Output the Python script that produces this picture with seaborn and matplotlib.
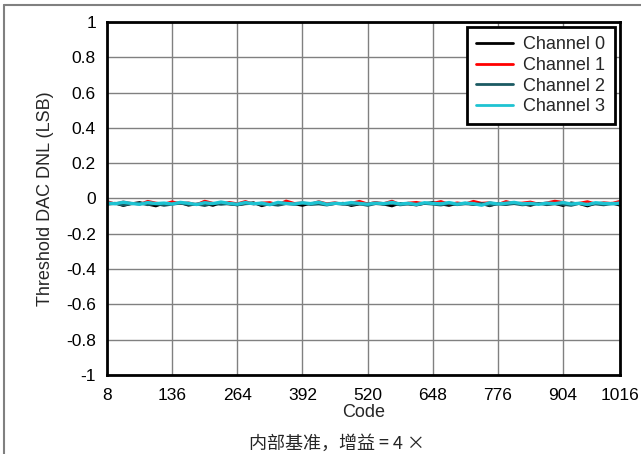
import numpy as np
import pandas as pd
import seaborn as sns
import matplotlib.pyplot as plt
from matplotlib.lines import Line2D

# codes sampled along the x axis
codes = np.arange(8, 1017, 16)
channels = ['Channel 0', 'Channel 1', 'Channel 2', 'Channel 3']
colors = ['#000000', '#FF0000', '#1B5A62', '#1EC3D2']
x_ticks = [8, 136, 264, 392, 520, 648, 776, 904, 1016]
y_ticks = [-1, -0.8, -0.6, -0.4, -0.2, 0, 0.2, 0.4, 0.6, 0.8, 1]
y_labels = ['-1', '-0.8', '-0.6', '-0.4', '-0.2', '0', '0.2', '0.4', '0.6', '0.8', '1']

# DNL (LSB), one value every 16 codes
ch0 = [-0.031, -0.026, -0.041, -0.029, -0.022, -0.033, -0.043, -0.027,
       -0.030, -0.024, -0.039, -0.031, -0.028, -0.040, -0.025, -0.032,
       -0.037, -0.029, -0.023, -0.042, -0.030, -0.035, -0.027, -0.031,
       -0.040, -0.028, -0.025, -0.034, -0.030, -0.026, -0.041, -0.032,
       -0.029, -0.024, -0.033, -0.043, -0.027, -0.031, -0.038, -0.028,
       -0.022, -0.032, -0.040, -0.029, -0.026, -0.034, -0.030, -0.042,
       -0.028, -0.033, -0.025, -0.031, -0.040, -0.027, -0.032, -0.029,
       -0.041, -0.024, -0.030, -0.043, -0.028, -0.033, -0.026, -0.039]
ch1 = [-0.016, -0.030, -0.019, -0.027, -0.033, -0.015, -0.025, -0.031,
       -0.018, -0.028, -0.024, -0.034, -0.014, -0.026, -0.030, -0.021,
       -0.029, -0.016, -0.032, -0.025, -0.022, -0.035, -0.013, -0.027,
       -0.024, -0.031, -0.017, -0.029, -0.023, -0.033, -0.026, -0.015,
       -0.030, -0.022, -0.028, -0.014, -0.034, -0.025, -0.021, -0.029,
       -0.027, -0.016, -0.032, -0.024, -0.030, -0.015, -0.026, -0.023,
       -0.033, -0.016, -0.028, -0.025, -0.019, -0.031, -0.024, -0.014,
       -0.021, -0.034, -0.026, -0.017, -0.030, -0.023, -0.027, -0.015]
ch2 = [-0.034, -0.029, -0.038, -0.031, -0.027, -0.036, -0.030, -0.040,
       -0.033, -0.028, -0.035, -0.032, -0.041, -0.029, -0.034, -0.030,
       -0.037, -0.031, -0.028, -0.036, -0.033, -0.039, -0.030, -0.034,
       -0.027, -0.035, -0.032, -0.038, -0.029, -0.033, -0.036, -0.031,
       -0.040, -0.030, -0.034, -0.028, -0.037, -0.032, -0.035, -0.029,
       -0.033, -0.038, -0.030, -0.036, -0.031, -0.034, -0.027, -0.039,
       -0.032, -0.035, -0.030, -0.037, -0.033, -0.028, -0.036, -0.031,
       -0.034, -0.040, -0.029, -0.035, -0.032, -0.037, -0.030, -0.033]
ch3 = [-0.025, -0.030, -0.021, -0.028, -0.033, -0.023, -0.029, -0.026,
       -0.031, -0.022, -0.027, -0.034, -0.024, -0.029, -0.020, -0.028,
       -0.032, -0.023, -0.030, -0.026, -0.035, -0.022, -0.028, -0.031,
       -0.024, -0.029, -0.021, -0.033, -0.027, -0.030, -0.023, -0.028,
       -0.032, -0.026, -0.029, -0.022, -0.031, -0.027, -0.034, -0.024,
       -0.028, -0.030, -0.023, -0.032, -0.026, -0.029, -0.038, -0.024,
       -0.031, -0.027, -0.022, -0.030, -0.028, -0.033, -0.026, -0.029,
       -0.023, -0.031, -0.027, -0.034, -0.024, -0.028, -0.030, -0.026]

# long format table for seaborn
df = pd.concat([
    pd.DataFrame({'Code': codes, 'DNL': vals, 'Channel': name})
    for name, vals in zip(channels, [ch0, ch1, ch2, ch3])
], ignore_index=True)

sns.set_style('white')
plt.rcParams['font.family'] = ['Liberation Sans', 'Noto Sans CJK SC', 'DejaVu Sans']

fig = plt.figure(figsize=(6.41, 4.54), dpi=100)
ax = fig.add_axes([107/641, 1 - 375/454, (620-107)/641, (375-22)/454])

sns.lineplot(data=df, x='Code', y='DNL', hue='Channel', hue_order=channels,
             palette=colors, linewidth=1.8, ax=ax)
# cyan trace sits on top and looks a bit heavier in the original
ax.get_lines()[3].set_linewidth(2.4)

ax.set_xlim(8, 1016)
ax.set_ylim(-1, 1)
ax.set_xticks(x_ticks)
ax.set_xticklabels([str(t) for t in x_ticks])
ax.set_yticks(y_ticks)
ax.set_yticklabels(y_labels)
ax.grid(True, color='#808080', linewidth=1)
ax.set_axisbelow(True)
ax.tick_params(direction='in', length=4, labelsize=12.5, colors='black')
ax.tick_params(axis='x', pad=9)
ax.tick_params(axis='y', pad=8)
for s in ax.spines.values():
    s.set_color('black')
    s.set_linewidth(2)

ax.set_xlabel('Code', fontsize=13, labelpad=1)
ax.set_ylabel('Threshold DAC DNL (LSB)', fontsize=13, labelpad=9)

leg = ax.legend(loc='upper right', fontsize=13, frameon=True, fancybox=False,
                framealpha=1, edgecolor='black', borderaxespad=0.3,
                handlelength=2.0, handletextpad=0.6, labelspacing=0.2,
                borderpad=0.5)
leg.get_frame().set_linewidth(2)
for h in leg.get_lines():
    h.set_linewidth(2)

fig.text(0.526, 0.022, '内部基准，增益 = 4 ×', ha='center', va='center', fontsize=13,
         family=['Noto Sans CJK SC', 'DejaVu Sans'])

# thin gray frame at top and left of the figure
fig.add_artist(Line2D([4/641, 1], [1 - 5/454, 1 - 5/454], color='#808080', linewidth=1.5))
fig.add_artist(Line2D([4/641, 4/641], [0, 1 - 5/454], color='#808080', linewidth=1.5))

fig.savefig('out.png', dpi=100)
